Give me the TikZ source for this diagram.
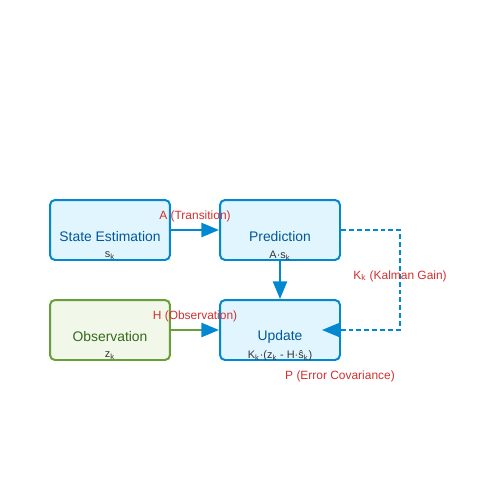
\documentclass[tikz,border=0pt]{standalone}
\usepackage{fontspec}
\setmainfont{Liberation Sans}
\usetikzlibrary{arrows.meta}
\definecolor{kfblue}{HTML}{0288D1}
\definecolor{kfbluefill}{HTML}{E1F5FE}
\definecolor{kfbluetext}{HTML}{01579B}
\definecolor{kfgreen}{HTML}{689F38}
\definecolor{kfgreenfill}{HTML}{F1F8E9}
\definecolor{kfgreentext}{HTML}{33691E}
\definecolor{kfred}{HTML}{D32F2F}
\definecolor{kfgray}{HTML}{333333}
\begin{document}
\begin{tikzpicture}[x=0.02cm, y=-0.02cm,
    kfbox/.style={draw=kfblue, fill=kfbluefill, line width=1.13pt, rounded corners=0.1cm,
        minimum width=2.4cm, minimum height=1.2cm, inner sep=0pt},
    obsbox/.style={kfbox, draw=kfgreen, fill=kfgreenfill},
    kftitle/.style={text=kfbluetext, inner sep=0pt, font=\fontsize{7.9}{9}\selectfont},
    kfsub/.style={text=kfgray, inner sep=0pt, font=\fontsize{6.2}{7}\selectfont},
    kflabel/.style={text=kfred, inner sep=0pt, font=\fontsize{6.8}{8}\selectfont},
    kfarrow/.style={line width=1.13pt, draw=kfblue, -{Triangle[length=10pt, width=8pt, fill=kfblue, color=kfblue]}}]
    \useasboundingbox (0,0) rectangle (500,500);
    % boxes
    \node [kfbox] (est) at (110,230) {};
    \node [kfbox] (pred) at (280,230) {};
    \node [obsbox] (obs) at (110,330) {};
    \node [kfbox] (upd) at (280,330) {};
    \node [kftitle] (estname) at (110,236.5) {State Estimation};
    \node [kftitle] (predname) at (280,236.5) {Prediction};
    \node [kftitle, text=kfgreentext] (obsname) at (110,336.5) {Observation};
    \node [kftitle] (updname) at (280,336.5) {Update};
    \node [kfsub] (estval) at (110,256) {s\textsubscript{k}};
    \node [kfsub] (predval) at (280,256) {A·s\textsubscript{k}};
    \node [kfsub] (obsval) at (110,356) {z\textsubscript{k}};
    \node [kfsub] (updval) at (280,356) {K\textsubscript{k}·(z\textsubscript{k} - H·ŝ\textsubscript{k})};
    % connectors
    \draw [kfarrow] (est.east) -- (pred.west);
    \draw [kfarrow] (pred.south) -- (upd.north);
    \draw [kfarrow, draw=kfgreen] (obs.east) -- (upd.west);
    \coordinate (kturn) at (400,330);
    \coordinate (kin) at (322,330);
    \draw [kfarrow, dash pattern=on 2.8pt off 1.7pt] (pred.east) -| (kturn) -- (kin);
    % labels
    \node [kflabel] (atrans) at (195,216) {A (Transition)};
    \node [kflabel] (hobs) at (195,316) {H (Observation)};
    \node [kflabel] (kgain) at (400,276) {K\textsubscript{k} (Kalman Gain)};
    \node [kflabel] (perr) at (340,376) {P (Error Covariance)};
\end{tikzpicture}
\end{document}
